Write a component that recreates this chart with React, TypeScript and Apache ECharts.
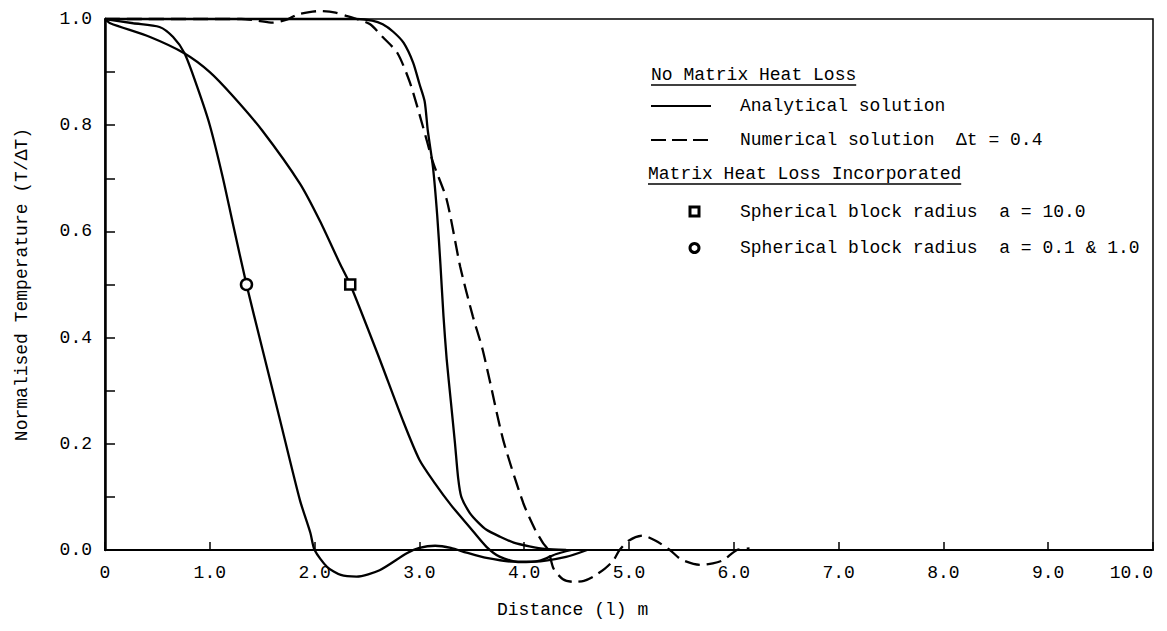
import React, { useEffect, useRef } from "react";
import * as echarts from "echarts";

const FONT = "'Liberation Mono', 'DejaVu Sans Mono', monospace";

const xTicks = [0, 1, 2, 3, 4, 5, 6, 7, 8, 9, 10];

const analytical: [number, number][] = [
  [0, 1.0], [1.0, 1.0], [2.0, 1.0], [2.4, 1.0], [2.55, 0.997], [2.65, 0.99],
  [2.75, 0.976], [2.85, 0.955], [2.94, 0.918], [3.0, 0.878], [3.05, 0.845],
  [3.08, 0.79], [3.13, 0.72], [3.17, 0.63], [3.2, 0.54], [3.23, 0.44],
  [3.26, 0.36], [3.3, 0.28], [3.34, 0.2], [3.37, 0.135], [3.4, 0.1],
  [3.48, 0.07], [3.56, 0.052], [3.64, 0.038], [3.77, 0.025], [3.9, 0.014],
  [4.05, 0.007], [4.2, 0.002], [4.4, 0],
];

const numerical: [number, number][] = [
  [0, 1.0], [1.3, 1.0], [1.45, 0.997], [1.6, 0.993], [1.74, 0.999],
  [1.83, 1.008], [1.95, 1.013], [2.05, 1.015], [2.2, 1.012], [2.3, 1.006],
  [2.4, 1.0], [2.53, 0.99], [2.65, 0.966], [2.79, 0.936], [2.91, 0.88],
  [3.03, 0.8], [3.13, 0.73], [3.26, 0.66], [3.39, 0.533], [3.51, 0.44],
  [3.6, 0.38], [3.67, 0.32], [3.8, 0.207], [3.99, 0.089], [4.1, 0.04],
  [4.18, 0.013], [4.23, 0], [4.28, -0.035], [4.37, -0.055], [4.47, -0.06],
  [4.57, -0.058], [4.66, -0.05], [4.77, -0.035], [4.85, -0.02], [4.91, 0],
  [5.0, 0.018], [5.13, 0.027], [5.25, 0.018], [5.39, 0], [5.5, -0.018],
  [5.68, -0.028], [5.8, -0.025], [5.9, -0.019], [6.03, 0], [6.15, 0.003],
];

const blockA10: [number, number][] = [
  [0, 1.0], [0.05, 0.992], [0.43, 0.966], [0.76, 0.935], [1.0, 0.9],
  [1.22, 0.855], [1.5, 0.79], [1.86, 0.69], [2.05, 0.62], [2.24, 0.54],
  [2.34, 0.5], [2.6, 0.37], [2.84, 0.245], [3.0, 0.17], [3.15, 0.125],
  [3.3, 0.085], [3.48, 0.043], [3.64, 0.006], [3.77, -0.013], [3.96, -0.023],
  [4.15, -0.02], [4.3, -0.008], [4.45, 0],
];

const blockA01: [number, number][] = [
  [0, 1.0], [0.27, 0.992], [0.52, 0.985], [0.65, 0.966], [0.76, 0.935],
  [0.88, 0.872], [1.0, 0.8], [1.12, 0.705], [1.22, 0.615], [1.35, 0.5],
  [1.5, 0.38], [1.67, 0.245], [1.86, 0.094], [1.96, 0.032], [2.0, 0],
  [2.12, -0.032], [2.25, -0.047], [2.4, -0.05], [2.62, -0.038],
  [2.88, -0.006], [3.0, 0.004], [3.15, 0.008], [3.3, 0.004], [3.45, -0.005],
  [3.64, -0.015], [3.9, -0.022], [4.1, -0.022], [4.4, -0.013], [4.6, 0],
];

const squarePoint: [number, number][] = [[2.34, 0.5]];
const circlePoint: [number, number][] = [[1.35, 0.5]];

const legendHeadings = ["No Matrix Heat Loss", "Matrix Heat Loss Incorporated"];
const legendLabels = [
  "Analytical solution",
  "Numerical solution  \u0394t = 0.4",
  "Spherical block radius  a = 10.0",
  "Spherical block radius  a = 0.1 & 1.0",
];
const xAxisTitle = "Distance (l) m";
const yAxisTitle = "Normalised Temperature (T/\u0394T)";

export default function App() {
  const ref = useRef<HTMLDivElement>(null);

  useEffect(() => {
    document.body.style.margin = "0";
    const chart = echarts.init(ref.current!, null, { renderer: "svg" });
    const textStyle = { fontFamily: FONT, fontSize: 18, fill: "#000" };
    const legX = 740;
    const markX = 651;
    const rows = [75, 106, 140, 174, 212, 248];
    const lineW = 2.3;

    chart.setOption({
      animation: false,
      backgroundColor: "#fff",
      grid: {
        left: 105, right: 14, top: 19, bottom: 81,
        outerBoundsMode: "none", containLabel: false,
        show: true, borderColor: "#000", borderWidth: 1.5,
      },
      xAxis: {
        type: "value", min: 0, max: 10, interval: 1,
        axisLine: { lineStyle: { color: "#000", width: 2 } },
        axisTick: { inside: true, length: 8, lineStyle: { color: "#000", width: 1.5 } },
        axisLabel: {
          margin: 14, color: "#000", fontFamily: FONT, fontSize: 18,
          formatter: (v: number) => (v === 0 ? "0" : v.toFixed(1)),
          customValues: xTicks,
          alignMaxLabel: "right",
        },
        splitLine: { show: false },
      },
      yAxis: {
        type: "value", min: 0, max: 1, interval: 0.1,
        name: yAxisTitle, nameLocation: "middle", nameGap: 74, nameRotate: 90,
        nameTextStyle: { color: "#000", fontFamily: FONT, fontSize: 18 },
        axisLine: { onZero: false, lineStyle: { color: "#000", width: 2.5 } },
        axisTick: { inside: true, length: 10, lineStyle: { color: "#000", width: 1.5 } },
        axisLabel: {
          margin: 13, color: "#000", fontFamily: FONT, fontSize: 18,
          formatter: (v: number) => (Math.round(v * 10) % 2 === 0 ? v.toFixed(1) : ""),
        },
        splitLine: { show: false },
      },
      series: [
        {
          name: "Analytical solution", type: "line", data: analytical, smooth: 0.25,
          showSymbol: false, clip: false, lineStyle: { color: "#000", width: lineW },
        },
        {
          name: "Numerical solution", type: "line", data: numerical, smooth: 0.25,
          showSymbol: false, clip: false,
          lineStyle: { color: "#000", width: lineW, type: [15, 7] },
        },
        {
          name: "a = 10.0", type: "line", data: blockA10, smooth: 0.25,
          showSymbol: false, clip: false, lineStyle: { color: "#000", width: lineW },
        },
        {
          name: "a = 0.1 & 1.0", type: "line", data: blockA01, smooth: 0.25,
          showSymbol: false, clip: false, lineStyle: { color: "#000", width: lineW },
        },
        {
          type: "scatter", data: squarePoint, symbol: "rect", symbolSize: 10, z: 5,
          itemStyle: { color: "#fff", borderColor: "#000", borderWidth: 2.5, opacity: 1 },
        },
        {
          type: "scatter", data: circlePoint, symbol: "circle", symbolSize: 11, z: 5,
          itemStyle: { color: "#fff", borderColor: "#000", borderWidth: 2.5, opacity: 1 },
        },
      ],
      graphic: [
        { type: "text", x: 497, y: 601, style: { ...textStyle, text: xAxisTitle } },
        { type: "text", x: markX, y: rows[0], style: { ...textStyle, text: legendHeadings[0], textVerticalAlign: "middle" } },
        { type: "line", shape: { x1: markX, y1: rows[0] + 10, x2: markX + 19 * 10.8, y2: rows[0] + 10 }, style: { stroke: "#000", lineWidth: 1.5 } },
        { type: "line", shape: { x1: markX, y1: rows[1], x2: markX + 60, y2: rows[1] }, style: { stroke: "#000", lineWidth: 2 } },
        { type: "text", x: legX, y: rows[1], style: { ...textStyle, text: legendLabels[0], textVerticalAlign: "middle" } },
        { type: "line", shape: { x1: markX, y1: rows[2], x2: markX + 58, y2: rows[2] }, style: { stroke: "#000", lineWidth: 2, lineDash: [15, 6] } },
        { type: "text", x: legX, y: rows[2], style: { ...textStyle, text: legendLabels[1], textVerticalAlign: "middle" } },
        { type: "text", x: markX - 3, y: rows[3], style: { ...textStyle, text: legendHeadings[1], textVerticalAlign: "middle" } },
        { type: "line", shape: { x1: markX - 3, y1: rows[3] + 10, x2: markX - 3 + 29 * 10.8, y2: rows[3] + 10 }, style: { stroke: "#000", lineWidth: 1.5 } },
        { type: "rect", shape: { x: 690, y: rows[4] - 5, width: 9, height: 9 }, style: { fill: "#fff", stroke: "#000", lineWidth: 3 } },
        { type: "text", x: legX, y: rows[4], style: { ...textStyle, text: legendLabels[2], textVerticalAlign: "middle" } },
        { type: "circle", shape: { cx: 694.5, cy: rows[5], r: 4.5 }, style: { fill: "#fff", stroke: "#000", lineWidth: 3 } },
        { type: "text", x: legX, y: rows[5], style: { ...textStyle, text: legendLabels[3], textVerticalAlign: "middle" } },
      ],
    });
    return () => chart.dispose();
  }, []);

  return <div ref={ref} style={{ width: 1167, height: 631, position: "absolute", left: 0, top: 0 }} />;
}
